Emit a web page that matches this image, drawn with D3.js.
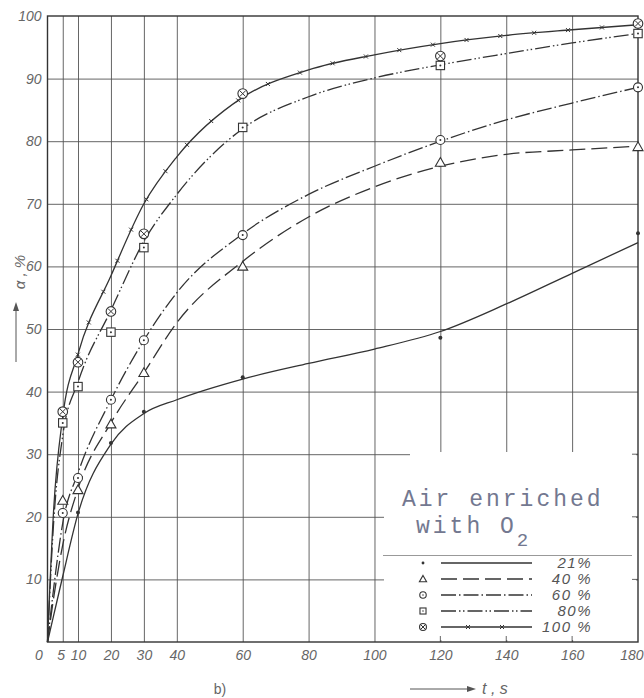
<!DOCTYPE html>
<html><head><meta charset="utf-8">
<script src="https://cdn.jsdelivr.net/npm/d3@7/dist/d3.min.js"></script>
<style>
body{margin:0;background:#fff}
svg{display:block}
.tick-label{font-family:"Liberation Sans","DejaVu Sans",sans-serif;font-style:italic;font-size:14px;fill:#666}
</style>
</head><body>
<svg id="c" width="644" height="698"></svg>
<script>
// ---------- data ----------
const xTickValues = [0,5,10,20,30,40,60,80,100,120,140,160,180];
const xGridValues = [5,10,20,30,40,60,80,100,120,140,160];
const yTickValues = [10,20,30,40,50,60,70,80,90,100];

const seriesNames = ["21%","40 %","60 %","80%","100 %"];

// fitted curves (time nodes, s)
const curveT   = [0,2,5,10,20,30,40,60,80,100,120,140,160,180];
const curve21  = [0,4.2,10.5,20.5,31.6,36.5,38.7,42,44.5,46.8,49.6,54,58.9,63.8];
const curve40  = [0,7,15.5,24.5,35,43,51,60.8,67.9,72.7,76,77.9,78.6,79.2];
const curve60  = [0,8.5,19,27,38.7,48.2,55.8,65.2,71.5,76,80,83.4,86.1,88.6];
const curve80  = [0,19,33,41.5,53,64,71.5,82,87.1,90.1,92.2,94,95.7,97.2];
const curve100 = [0,21,36,46,58.5,70,77.5,87,91.4,93.8,95.6,96.9,97.8,98.6];

// measured points
const markT    = [5,10,20,30,60,120,180];
const mark21   = [null,20.7,31.8,36.8,42.3,48.6,65.3];
const mark40   = [22.6,24.3,34.8,43,60,76.6,79.1];
const mark60   = [20.6,26.2,38.7,48.2,65,80.2,88.6];
const mark80   = [35,40.8,49.5,63,82.2,92.1,97.2];
const mark100  = [36.8,44.7,52.8,65.2,87.6,93.6,98.8];

// ---------- setup ----------
const svg = d3.select("#c");
const L = 47.5, R = 638, T = 16, B = 642;
const x = d3.scaleLinear().domain([0,10,180]).range([L,78,R]);
const y = d3.scaleLinear().domain([0,100]).range([B,T]);
const ink = "#333";

svg.append("rect").attr("width",644).attr("height",698).attr("fill","#fff");

// grid
const gx = svg.append("g").attr("transform",`translate(0,${B})`)
  .call(d3.axisBottom(x).tickValues(xGridValues).tickSize(-(B-T)).tickFormat(""));
gx.select(".domain").remove();
gx.selectAll("line").attr("stroke","#555").attr("stroke-width",0.9);

const gy = svg.append("g").attr("transform",`translate(${L},0)`)
  .call(d3.axisLeft(y).tickValues(yTickValues.filter(v=>v<100)).tickSize(-(R-L)).tickFormat(""));
gy.select(".domain").remove();
gy.selectAll("line").attr("stroke","#555").attr("stroke-width",0.9);

// legend white area (covers grid)
svg.append("rect").attr("x",384).attr("y",457).attr("width",252).attr("height",183).attr("fill","#fff");
svg.append("rect").attr("x",410).attr("y",452).attr("width",226).attr("height",188).attr("fill","#fff");
// stubs on frame inside legend
[10,20,30].forEach(v=>{
  svg.append("line").attr("x1",R-6).attr("x2",R).attr("y1",y(v)).attr("y2",y(v)).attr("stroke","#555").attr("stroke-width",0.9);
});
[120,140,160].forEach(t=>{
  svg.append("line").attr("x1",x(t)).attr("x2",x(t)).attr("y1",B-6).attr("y2",B).attr("stroke","#555").attr("stroke-width",0.9);
});

// frame
svg.append("rect").attr("x",L).attr("y",T).attr("width",R-L).attr("height",B-T)
  .attr("fill","none").attr("stroke",ink).attr("stroke-width",1.4);

// tick labels
const xl = svg.append("g").attr("transform",`translate(0,${B})`)
  .call(d3.axisBottom(x).tickValues(xTickValues).tickSize(0).tickPadding(0).tickFormat(d3.format("d")));
xl.select(".domain").remove();
xl.selectAll("text").attr("class","tick-label").attr("y",18).attr("dy",0)
  .attr("dx",d=>d===0?-9:(d===5?-2:0))
  .attr("text-anchor",d=>d===180?"end":"middle")
  .attr("x",d=>d===180?(643-x(180)):0);

const yl = svg.append("g").attr("transform",`translate(${L},0)`)
  .call(d3.axisLeft(y).tickValues(yTickValues).tickSize(0).tickPadding(6).tickFormat(d3.format("d")));
yl.select(".domain").remove();
yl.selectAll("text").attr("class","tick-label");

// y title with arrow
svg.append("text").attr("transform","translate(25,272) rotate(-90)")
  .attr("text-anchor","middle").attr("class","tick-label").style("font-size","15px").text("α , %");
svg.append("line").attr("x1",16).attr("x2",16).attr("y1",362).attr("y2",307).attr("stroke","#555").attr("stroke-width",1);
svg.append("path").attr("d","M16,302 L13,311 L19,311 Z").attr("fill","#555");

// x title
svg.append("text").attr("x",220).attr("y",694).attr("class","tick-label").style("font-style","normal").attr("text-anchor","middle").text("b)");
svg.append("line").attr("x1",410).attr("x2",470).attr("y1",689).attr("y2",689).attr("stroke","#555").attr("stroke-width",1);
svg.append("path").attr("d","M476,689 L467,686 L467,692 Z").attr("fill","#555");
svg.append("text").attr("x",482).attr("y",694).attr("class","tick-label").style("font-size","16px").text("t , s");

// ---------- curves ----------
const dashes = [null,"16,6","15,3,1.5,3","15,3,1.5,2.5,1.5,3",null];
const curves = [curve21,curve40,curve60,curve80,curve100];
const line = d3.line().x(d=>x(d[0])).y(d=>y(d[1])).curve(d3.curveMonotoneX);
const paths = curves.map((vals,i)=>{
  const pts = curveT.map((t,j)=>[t,vals[j]]);
  return svg.append("path").datum(pts).attr("d",line).attr("fill","none")
    .attr("stroke",ink).attr("stroke-width",1.3).attr("stroke-dasharray",dashes[i]);
});

// small x marks along 100% curve
function xMark(g,cx,cy,s){
  g.append("path").attr("d",`M${cx-s},${cy-s}L${cx+s},${cy+s}M${cx-s},${cy+s}L${cx+s},${cy-s}`)
    .attr("stroke",ink).attr("stroke-width",1);
}
{
  const p = paths[4].node(); const len = p.getTotalLength();
  for(let s=290; s<len-10; s+=34){ const q=p.getPointAtLength(s); xMark(svg,q.x,q.y,2); }
}

// ---------- markers ----------
function marker(g,type,cx,cy,sc){
  const st = {stroke:ink,"stroke-width":1.1,fill:"#fff"};
  const ap = (sel)=>{Object.entries(st).forEach(([k,v])=>sel.attr(k,v));return sel;};
  if(type===0){ g.append("circle").attr("cx",cx).attr("cy",cy).attr("r",2*sc).attr("fill",ink); }
  else if(type===1){ const h=5*sc; ap(g.append("path").attr("d",`M${cx},${cy-h}L${cx+h},${cy+h*0.75}L${cx-h},${cy+h*0.75}Z`)); }
  else if(type===2){ ap(g.append("circle").attr("cx",cx).attr("cy",cy).attr("r",4.5*sc));
    g.append("circle").attr("cx",cx).attr("cy",cy).attr("r",1*sc).attr("fill",ink); }
  else if(type===3){ const h=4.2*sc; ap(g.append("rect").attr("x",cx-h).attr("y",cy-h).attr("width",2*h).attr("height",2*h));
    g.append("circle").attr("cx",cx).attr("cy",cy).attr("r",1*sc).attr("fill",ink); }
  else { const r=4.8*sc; ap(g.append("circle").attr("cx",cx).attr("cy",cy).attr("r",r));
    const d=r*0.6; g.append("path").attr("d",`M${cx-d},${cy-d}L${cx+d},${cy+d}M${cx-d},${cy+d}L${cx+d},${cy-d}`).attr("stroke",ink).attr("stroke-width",1); }
}
const marks = [mark21,mark40,mark60,mark80,mark100];
marks.forEach((vals,i)=>{
  markT.forEach((t,j)=>{ if(vals[j]!=null) marker(svg,i,x(t),y(vals[j]),1); });
});

// ---------- legend ----------
const lg = svg.append("g");
const monoFont = "'Liberation Mono','DejaVu Sans Mono',monospace";
lg.append("text").attr("font-family",monoFont).attr("fill","#737890")
  .style("font-size","23px").style("letter-spacing","3px")
  .attr("x",402).attr("y",506).text("Air enriched");
const t2 = lg.append("text").attr("font-family",monoFont).attr("fill","#737890")
  .style("font-size","23px").style("letter-spacing","3px")
  .attr("x",416).attr("y",533);
t2.append("tspan").text("with  O");
t2.append("tspan").attr("dy",13).style("font-size","19px").text("2");
lg.append("line").attr("x1",383).attr("x2",632).attr("y1",555.5).attr("y2",555.5).attr("stroke","#999").attr("stroke-width",1);

const rowY = [563,579,595,611,627];
seriesNames.forEach((name,i)=>{
  const yy = rowY[i];
  marker(lg,i,423,yy,0.72);
  lg.append("line").attr("x1",441).attr("x2",532).attr("y1",yy).attr("y2",yy)
    .attr("stroke",ink).attr("stroke-width",1.3).attr("stroke-dasharray",dashes[i]);
  if(i===4){ [468,502].forEach(cx=>xMark(lg,cx,yy,2)); }
  lg.append("text").attr("x",592).attr("y",yy+5).attr("text-anchor","end").attr("class","tick-label")
    .style("font-size","15px").style("letter-spacing","1.5px").style("fill","#555").text(name);
});
</script>
</body></html>
